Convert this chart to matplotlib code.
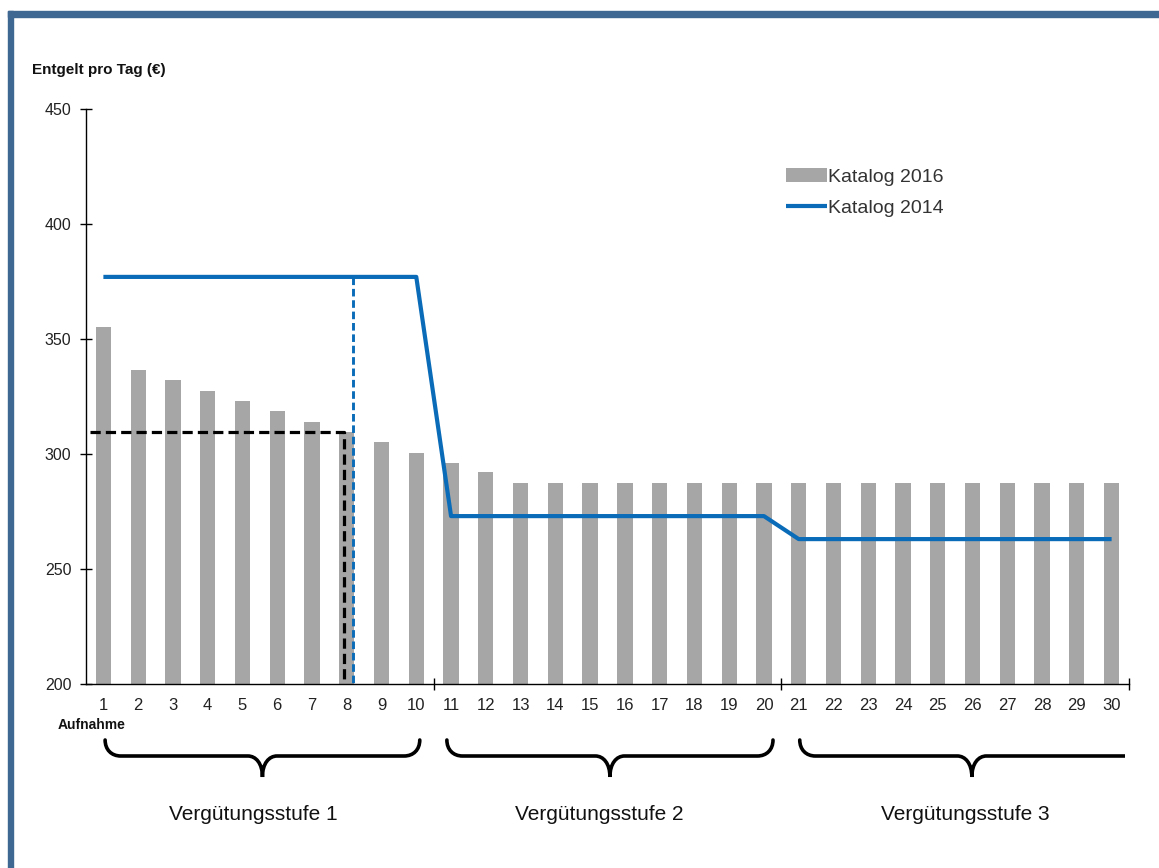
import matplotlib
matplotlib.use("Agg")
import matplotlib.pyplot as plt
import matplotlib.patches as mpatches
import matplotlib.transforms as mtransforms
from matplotlib.path import Path

# Tagesentgelte je Aufnahmetag
days = list(range(1, 31))
katalog_2016 = [355, 336.5, 332, 327.5, 323, 318.5, 314, 309.5, 305, 300.5,
                296, 292, 287.5, 287.5, 287.5, 287.5, 287.5, 287.5, 287.5, 287.5,
                287.5, 287.5, 287.5, 287.5, 287.5, 287.5, 287.5, 287.5, 287.5, 287.5]
katalog_2014 = [377] * 10 + [273] * 10 + [263] * 10

# Hilfslinien
marker_2016_day = 7.93      # Schnittpunkt Katalog 2016 (schwarz gestrichelt)
marker_2014_day = 8.18      # Grenze Katalog 2014 (blau gestrichelt)

stufen = ["Vergütungsstufe 1", "Vergütungsstufe 2", "Vergütungsstufe 3"]
stufen_label_x = [5.32, 15.25, 25.8]
brace_spans = [(1.05, 10.1), (10.88, 20.26), (21.03, 30.93)]

BLUE = "#0a6cb8"
GRAY = "#a6a6a6"
FRAME = "#3e6892"
NARROW = ["Liberation Sans Narrow", "Liberation Sans", "DejaVu Sans"]

plt.rcParams["font.family"] = ["Liberation Sans", "DejaVu Sans"]

W, H = 1159, 868
fig = plt.figure(figsize=(W / 100, H / 100), dpi=100)
fig.patch.set_facecolor("white")

ax = fig.add_axes([86 / W, 184 / H, (1129 - 86) / W, (684 - 109) / H])

bars = ax.bar(days, katalog_2016, width=0.44, color=GRAY, label="Katalog 2016", zorder=1)
line, = ax.plot(days, katalog_2014, color=BLUE, lw=3, solid_capstyle="butt",
                label="Katalog 2014", zorder=3)

# schwarze gestrichelte Linie bis Tag 8
y8 = katalog_2016[7]
ax.plot([0.62, marker_2016_day, marker_2016_day], [y8, y8, 200], color="black", lw=2.3,
        dashes=(3.2, 1.6), zorder=4)
# blaue gestrichelte Linie
ax.plot([marker_2014_day, marker_2014_day], [katalog_2014[0], 200], color=BLUE, lw=2.1,
        dashes=(2.6, 1.3), zorder=4)

ax.set_xlim(0.5, 30.5)
ax.set_ylim(200, 450)
ax.set_yticks([200, 250, 300, 350, 400, 450])
ax.set_xticks(days)
ax.set_xticklabels([str(d) for d in days], family=NARROW, fontsize=12, color="#222222")
ax.set_xticks([10.5, 20.5, 30.5], minor=True)
ax.tick_params(axis="x", which="major", length=0, pad=10)
ax.tick_params(axis="x", which="minor", direction="inout", length=9, width=1)
ax.tick_params(axis="y", direction="inout", length=9, width=1, pad=6, labelsize=11.5,
               labelcolor="#222222")

for s in ["top", "right"]:
    ax.spines[s].set_visible(False)
for s in ["left", "bottom"]:
    ax.spines[s].set_linewidth(1)
    ax.spines[s].set_zorder(5)

leg = ax.legend([bars, line], ["Katalog 2016", "Katalog 2014"], loc="upper left",
                bbox_to_anchor=(0.671, 0.897), frameon=False,
                fontsize=14, handlelength=2.1, handleheight=0.7, handletextpad=0.05,
                labelspacing=0.7, borderpad=0, borderaxespad=0)
for t in leg.get_texts():
    t.set_color("#333333")

# geschweifte Klammern unter der Achse (x in Daten, y in Achsenanteilen)
trans = mtransforms.blended_transform_factory(ax.transData, ax.transAxes)


def drawBrace(axes, x0, x1, clip_x=None):
    y_top = (684 - 740) / 575
    y_mid = (684 - 756) / 575
    y_tip = (684 - 777) / 575
    r = 0.45
    rc = 0.42
    xm = (x0 + x1) / 2
    verts = [
        (x0, y_top),
        (x0, y_top + 0.6 * (y_mid - y_top)), (x0 + 0.4 * r, y_mid), (x0 + r, y_mid),
        (xm - rc, y_mid),
        (xm - 0.45 * rc, y_mid), (xm, y_mid + 0.35 * (y_tip - y_mid)), (xm, y_tip),
        (xm, y_mid + 0.35 * (y_tip - y_mid)), (xm + 0.45 * rc, y_mid), (xm + rc, y_mid),
        (x1 - r, y_mid),
        (x1 - 0.4 * r, y_mid), (x1, y_top + 0.6 * (y_mid - y_top)), (x1, y_top),
    ]
    codes = [Path.MOVETO,
             Path.CURVE4, Path.CURVE4, Path.CURVE4,
             Path.LINETO,
             Path.CURVE4, Path.CURVE4, Path.CURVE4,
             Path.CURVE4, Path.CURVE4, Path.CURVE4,
             Path.LINETO,
             Path.CURVE4, Path.CURVE4, Path.CURVE4]
    patch = mpatches.PathPatch(Path(verts, codes), facecolor="none", edgecolor="black",
                               lw=2.6, transform=trans, clip_on=False, capstyle="round")
    axes.add_patch(patch)
    if clip_x is not None:
        box = mtransforms.TransformedBbox(mtransforms.Bbox([[x0 - 1, -1], [clip_x, 0]]), trans)
        patch.set_clip_box(box)
        patch.set_clip_on(True)


for i, (a, b) in enumerate(brace_spans):
    drawBrace(ax, a, b, clip_x=30.38 if i == 2 else None)

for name, x in zip(stufen, stufen_label_x):
    ax.text(x, (684 - 815) / 575, name, transform=trans, ha="center", va="center",
            fontsize=15, color="#111111")

fig.text(58 / W, 1 - 725 / H, "Aufnahme", ha="left", va="center", fontsize=10,
         fontweight="bold", color="#111111")
fig.text(32 / W, 1 - 70 / H, "Entgelt pro Tag (€)", ha="left", va="center", fontsize=11,
         fontweight="bold", color="#111111")

# Rahmen oben und links
fig.patches.append(mpatches.Rectangle((8 / W, 1 - 17 / H), 1 - 8 / W, 6 / H,
                                      transform=fig.transFigure, color=FRAME, zorder=10))
fig.patches.append(mpatches.Rectangle((8 / W, 0), 5 / W, 1 - 11 / H,
                                      transform=fig.transFigure, color=FRAME, zorder=10))

fig.savefig("out.png", dpi=100)
